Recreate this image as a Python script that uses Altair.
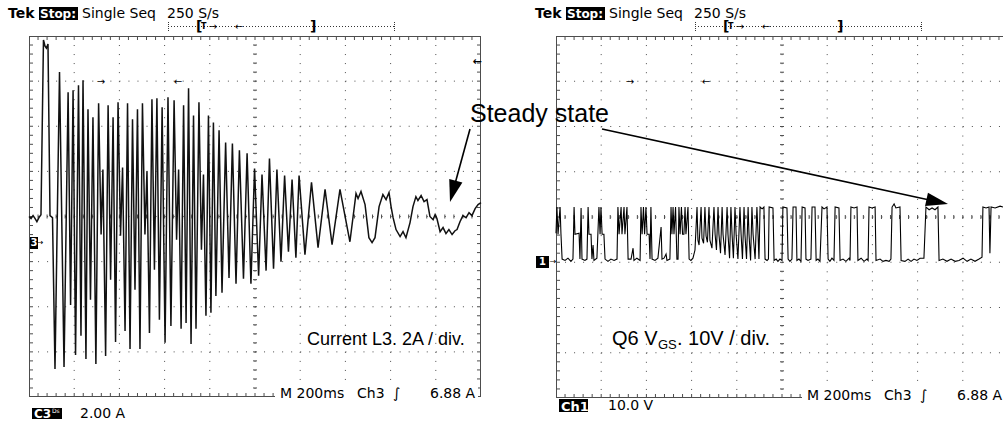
import math
import altair as alt
import pandas as pd

# ---- Ch3: inductor L3 current (time in ms, current in A) -------------------
cur_t_ms = [
    0, 9, 18, 27, 35, 44, 53, 64, 71, 77,
    84, 93, 104, 115, 135, 155, 173, 184, 195, 206,
    219, 230, 239, 252, 261, 272, 283, 296, 308, 319,
    327, 339, 350, 361, 372, 383, 394, 405, 414, 425,
    436, 447, 458, 469, 480, 491, 502, 513, 522, 533,
    544, 555, 566, 577, 589, 602, 615, 628, 642, 653,
    662, 673, 684, 695, 706, 717, 728, 739, 752, 763,
    772, 783, 794, 805, 816, 827, 841, 854, 870, 885,
    900, 916, 931, 949, 965, 982, 998, 1016, 1031, 1049,
    1064, 1082, 1097, 1115, 1131, 1148, 1164, 1181, 1195, 1221,
    1250, 1279, 1310, 1341, 1376, 1420, 1447, 1456, 1469, 1487,
    1504, 1518, 1531, 1549, 1566, 1580, 1593, 1602, 1611, 1624,
    1642, 1655, 1668, 1686, 1699, 1712, 1721, 1735, 1748, 1761,
    1774, 1788, 1797, 1805, 1819, 1832, 1845, 1858, 1872, 1885,
    1894, 1907, 1920, 1934, 1947, 1960, 1974, 1987, 2000,
]
cur_a = [
    1.16, 1.07, 1.2, 1.07, 0.93, 1.11, 1.24, 8.98, 8.71, 8.62,
    8.8, 1.2, 1.11, -5.6, 7.56, -5.51, 6.67, -2.76, 6.76, -4.98,
    6.98, -4.13, 7.2, -5.16, 5.91, -2.53, 5.56, -5.38, 6.18, 0.36,
    3.24, -5.02, 6.09, -1.64, 5.56, -4.4, 6.22, 0.31, 3.33, -3.91,
    6.18, -4.71, 5.47, -2.09, 5.91, -4.71, 6.18, 0.36, 3.16, -4.0,
    6.36, -1.2, 6.4, -3.42, 6.0, -4.44, 6.44, -3.69, 6.31, 0.13,
    3.24, -3.82, 6.09, -3.56, 6.84, -4.49, 5.64, -3.82, 6.22, -0.31,
    3.02, -3.24, 5.64, -3.11, 5.33, -2.36, 4.98, -2.22, 4.44, -1.56,
    4.4, -1.82, 4.09, -1.6, 3.96, -1.82, 3.29, -1.47, 3.02, -1.24,
    3.73, -1.16, 3.24, -0.84, 2.98, -0.4, 2.8, -0.67, 2.98, -0.53,
    2.67, -0.22, 2.36, -0.09, 2.36, 0.04, 2.18, 1.96, 2.27, 1.69,
    0.22, 0.0, 0.22, 1.6, 2.13, 1.91, 2.22, 1.6, 1.11, 0.58,
    0.27, 0.49, 0.22, 0.89, 1.6, 2.04, 1.87, 2.09, 1.82, 1.91,
    1.16, 1.02, 1.24, 1.07, 0.49, 0.67, 0.4, 0.58, 0.36, 0.53,
    0.58, 0.93, 1.2, 1.11, 1.33, 1.2, 1.51, 1.69, 1.78,
]

# ---- Ch1: Q6 gate-source voltage (time in ms, voltage in V) ----------------
vgs_t_ms = [
    0, 4, 9, 18, 22, 27, 40, 53, 66, 75,
    80, 84, 102, 106, 111, 115, 128, 137, 142, 146,
    155, 159, 164, 168, 181, 190, 195, 199, 204, 212,
    217, 230, 243, 257, 270, 274, 279, 288, 292, 301,
    305, 314, 319, 332, 341, 345, 358, 372, 376, 381,
    387, 392, 398, 403, 412, 416, 420, 425, 438, 451,
    465, 469, 478, 487, 491, 504, 509, 513, 518, 522,
    529, 535, 540, 544, 549, 555, 560, 566, 571, 575,
    584, 589, 597, 606, 615, 624, 628, 633, 642, 646,
    653, 659, 664, 670, 677, 681, 690, 699, 704, 710,
    717, 721, 728, 735, 739, 748, 757, 761, 768, 774,
    779, 785, 792, 797, 805, 814, 819, 825, 832, 836,
    843, 850, 854, 861, 867, 872, 881, 889, 894, 898,
    903, 912, 920, 925, 934, 940, 943, 960, 965, 974,
    982, 991, 1000, 1004, 1022, 1027, 1035, 1044, 1049, 1062,
    1066, 1075, 1084, 1089, 1102, 1106, 1115, 1128, 1133, 1146,
    1151, 1159, 1168, 1177, 1186, 1199, 1204, 1212, 1221, 1230,
    1235, 1252, 1257, 1270, 1283, 1297, 1301, 1305, 1319, 1332,
    1336, 1350, 1363, 1376, 1381, 1385, 1398, 1412, 1416, 1434,
    1447, 1460, 1474, 1482, 1487, 1496, 1504, 1522, 1527, 1544,
    1558, 1571, 1584, 1597, 1611, 1628, 1637, 1651, 1664, 1677,
    1690, 1695, 1712, 1730, 1748, 1766, 1783, 1801, 1819, 1836,
    1854, 1872, 1885, 1889, 1903, 1916, 1920, 1925, 1943, 1965, 1978,
]
vgs_v = [
    6.4, 12.2, 6.2, 12.2, 6.2, 0.7, 0.4, 0.9, 0.2, 0.7,
    12.2, 6.2, 6.4, 0.7, 12.0, 0.7, 0.4, 0.7, 12.2, 6.2,
    6.2, 0.7, 3.8, 0.4, 0.9, 12.2, 6.2, 12.2, 6.2, 6.2,
    0.7, 0.2, 0.7, 0.4, 0.7, 12.2, 6.2, 12.2, 6.2, 12.2,
    6.2, 12.2, 0.7, 0.7, 3.1, 0.4, 0.9, 0.4, 12.2, 6.2,
    12.2, 6.2, 12.2, 6.2, 6.2, 0.7, 12.2, 0.7, 0.4, 0.9,
    7.8, 0.7, 0.9, 1.8, 0.4, 0.7, 12.2, 6.2, 12.2, 6.2,
    12.2, 0.7, 0.7, 12.2, 6.2, 12.2, 6.2, 6.2, 12.2, 6.2,
    12.2, 0.7, 0.4, 0.9, 2.7, 12.2, 4.9, 3.8, 12.2, 5.3,
    4.2, 12.2, 5.8, 4.4, 12.2, 4.9, 3.1, 12.2, 6.2, 2.7,
    12.2, 6.2, 2.0, 12.2, 6.2, 1.6, 12.2, 6.2, 0.9, 12.2,
    6.2, 0.9, 12.2, 6.2, 0.7, 12.2, 6.2, 0.7, 12.2, 6.2,
    0.7, 12.2, 6.2, 0.4, 12.2, 6.2, 0.7, 12.2, 6.2, 0.7,
    12.2, 11.8, 12.2, 0.7, 0.4, 0.7, 12.2, 12.0, 0.4, 0.7,
    0.2, 0.7, 0.4, 12.2, 12.0, 0.7, 0.2, 0.7, 12.2, 12.2,
    0.4, 0.7, 0.2, 12.2, 12.0, 0.7, 0.4, 0.7, 12.2, 12.2,
    0.4, 0.7, 0.2, 12.2, 11.8, 12.2, 0.7, 0.2, 0.9, 0.4,
    12.2, 12.0, 0.4, 0.7, 0.2, 0.9, 0.4, 12.2, 12.0, 12.2,
    0.4, 0.9, 0.2, 0.7, 0.4, 12.2, 12.0, 12.2, 0.4, 0.7,
    0.2, 0.4, 0.2, 0.7, 12.2, 12.9, 12.0, 12.2, 0.4, 0.2,
    0.7, 0.2, 0.7, 0.4, 0.9, 0.9, 12.2, 11.6, 12.0, 11.6,
    12.2, 0.4, 0.7, 0.2, 0.7, 0.2, 0.4, 0.9, 0.2, 0.7,
    0.2, 0.7, 1.1, 12.2, 12.0, 12.2, 2.0, 12.2, 12.0, 12.4, 12.2,
]

# ---- scope settings ----------------------------------------------------------
MS_PER_DIV = 200
H_DIVS, V_DIVS, MINOR = 10, 8, 5
CH3_A_PER_DIV, CH3_MID_A = 2.0, 1.16     # value at the centre graticule line
CH1_V_PER_DIV, CH1_MID_V = 10.0, 10.0

FONT_SCOPE = "DejaVu Sans"
FONT_NOTE = "Liberation Sans"
GRID = "#4d4d4d"

FULL_W = 452               # width of a full 10-division screen
LH, RH = 361, 362          # screen heights
RIGHT_X0 = 527             # right screen offset from the left one
PLOT_W = 974               # both screens, right one cut by the page edge
PLOT_H = 362

one = pd.DataFrame({"k": [0]})


def label(text, x, y, size=13, color="black", weight="normal", font=FONT_SCOPE,
          align="left", baseline="alphabetic"):
    return alt.Chart(one).mark_text(
        text=text, fontSize=size, font=font, fontWeight=weight, color=color,
        align=align, baseline=baseline,
    ).encode(x=alt.value(x), y=alt.value(y))


def box(x0, y0, x1, y1, color="black"):
    return alt.Chart(one).mark_rect(color=color).encode(
        x=alt.value(x0), x2=alt.value(x1), y=alt.value(y0), y2=alt.value(y1))


def seg(x0, y0, x1, y1, color=GRID, width=1.0, dash=None):
    kw = {"color": color, "strokeWidth": width}
    if dash:
        kw["strokeDash"] = dash
    return alt.Chart(one).mark_rule(**kw).encode(
        x=alt.value(x0), x2=alt.value(x1), y=alt.value(y0), y2=alt.value(y1))


def arrow(x0, y0, x1, y1, head=22, half=0.62):
    ang = math.atan2(y1 - y0, x1 - x0)
    ux, uy = math.cos(ang), math.sin(ang)
    cx, cy = x1 - ux * head / 2, y1 - uy * head / 2
    bx, by = x1 - ux * (head - 3), y1 - uy * (head - 3)
    rot = (math.degrees(ang) + 90) % 360
    shaft = seg(x0, y0, bx, by, color="black", width=1.6)
    tip = alt.Chart(one).mark_point(
        shape=f"M0,-1L{-half},1L{half},1Z", size=head * head, filled=True,
        color="black", opacity=1, angle=rot, strokeWidth=0,
    ).encode(x=alt.value(cx), y=alt.value(cy))
    return [shaft, tip]


def screen(x0, w, h, t_max, mid, per_div, right_edge):
    """Graticule of one scope screen; returns layers and the channel encoders."""
    y_lo = mid - per_div * V_DIVS / 2
    y_hi = mid + per_div * V_DIVS / 2
    xs = alt.Scale(domain=[0, t_max], range=[x0, x0 + w], nice=False, zero=False)
    ys = alt.Scale(domain=[y_lo, y_hi], range=[h, 0], nice=False, zero=False)

    def X():
        return alt.X("t:Q", scale=xs, axis=None)

    def Y():
        return alt.Y("v:Q", scale=ys, axis=None)

    step_x = FULL_W / (H_DIVS * MINOR)
    step_y = h / (V_DIVS * MINOR)
    layers = []

    # dotted division lines
    vt = pd.DataFrame({"t": [MS_PER_DIV * k for k in range(1, H_DIVS)
                             if MS_PER_DIV * k < t_max]})
    layers.append(alt.Chart(vt).mark_rule(color=GRID, strokeWidth=1,
                                          strokeDash=[1, step_y - 1]).encode(
        x=X(), y=alt.value(0), y2=alt.value(h)))
    hv = pd.DataFrame({"v": [mid + per_div * k for k in range(-3, 4)]})
    layers.append(alt.Chart(hv).mark_rule(color=GRID, strokeWidth=1,
                                          strokeDash=[1, step_x - 1]).encode(
        y=Y(), x=alt.value(x0), x2=alt.value(x0 + w)))

    # minor ticks on the frame and on the centre cross
    minor_t = [MS_PER_DIV / MINOR * k for k in range(1, H_DIVS * MINOR)
               if MS_PER_DIV / MINOR * k < t_max]
    minor_v = [y_lo + per_div / MINOR * k for k in range(1, V_DIVS * MINOR)]
    mt = pd.DataFrame({"t": minor_t})
    mv = pd.DataFrame({"v": minor_v})
    tick = alt.Chart(mt).mark_rule(color=GRID, strokeWidth=1)
    layers.append(tick.encode(x=X(), y=alt.value(0), y2=alt.value(4)))
    layers.append(tick.encode(x=X(), y=alt.value(h - 4), y2=alt.value(h)))
    layers.append(tick.encode(x=X(), y=alt.value(h / 2 - 2), y2=alt.value(h / 2 + 2)))
    vtick = alt.Chart(mv).mark_rule(color=GRID, strokeWidth=1)
    layers.append(vtick.encode(y=Y(), x=alt.value(x0), x2=alt.value(x0 + 4)))
    cx = x0 + FULL_W / 2
    layers.append(vtick.encode(y=Y(), x=alt.value(cx - 2), x2=alt.value(cx + 2)))
    if right_edge:
        layers.append(vtick.encode(y=Y(), x=alt.value(x0 + w - 4), x2=alt.value(x0 + w)))

    # frame
    layers.append(seg(x0, 0.5, x0 + w, 0.5))
    layers.append(seg(x0, h - 0.5, x0 + w, h - 0.5))
    layers.append(seg(x0 + 0.5, 0, x0 + 0.5, h))
    if right_edge:
        layers.append(seg(x0 + w - 0.5, 0, x0 + w - 0.5, h))
    return layers, X, Y


def header(layers, x0):
    layers.append(label("Tek", x0 - 21, -18, size=14, weight="bold"))
    layers.append(box(x0 + 10, -29, x0 + 49, -16))
    layers.append(label("Stop:", x0 + 11, -18.5, size=12, weight="bold", color="white"))
    layers.append(label("Single Seq", x0 + 53, -18, size=14))
    layers.append(label("250 S/s", x0 + 138, -18, size=14))
    # record / trigger position bar
    layers.append(seg(x0 + 139, -9.5, x0 + 366, -9.5, color="#333333", dash=[1, 2]))
    layers.append(seg(x0 + 139.5, -14, x0 + 139.5, -4, color="#333333", dash=[1, 1]))
    layers.append(seg(x0 + 365.5, -14, x0 + 365.5, -4, color="#333333", dash=[1, 1]))
    layers.append(label("[", x0 + 167, -5, size=14, weight="bold"))
    layers.append(label("]", x0 + 281, -5, size=14, weight="bold"))
    layers.append(label("T", x0 + 172, -7, size=8, weight="bold"))
    layers.append(label("\u2192", x0 + 184, -9, size=10, align="center", baseline="middle"))
    layers.append(label("\u2190", x0 + 210, -9, size=10, align="center", baseline="middle"))


def footer(layers, x0, y):
    layers.append(box(x0 + 246, y - 12, x0 + 449, y + 2, color="white"))
    layers.append(label("M 200ms", x0 + 251, y, size=14))
    layers.append(label("Ch3", x0 + 328, y, size=14))
    layers.append(label("\u222b", x0 + 364, y, size=14))
    layers.append(label("6.88 A", x0 + 401, y, size=14))


layers = []

# ---- left screen: Ch3 current ------------------------------------------------
L, LX, LY = screen(0, FULL_W, LH, MS_PER_DIV * H_DIVS, CH3_MID_A, CH3_A_PER_DIV, True)
layers += L
cur = pd.DataFrame({"t": cur_t_ms, "v": cur_a})
layers.append(alt.Chart(cur).mark_line(color="#111111", strokeWidth=1.5).encode(x=LX(), y=LY()))
header(layers, 0)
footer(layers, 0, 362)
layers.append(box(3, 372, 33, 383))
layers.append(label("C3", 5, 381.5, size=12, weight="bold", color="white"))
layers.append(label("Ds", 23, 377, size=6, color="white"))
layers.append(label("2.00 A", 51, 382, size=14))
layers.append(box(1, 201, 9, 213))
layers.append(label("3", 5, 207, size=10, weight="bold", color="white", align="center", baseline="middle"))
layers.append(label("\u2192", 11, 207, size=8, align="center", baseline="middle"))
layers.append(label("\u2192", 72, 46, size=10, align="center", baseline="middle"))
layers.append(label("\u2190", 149, 46, size=10, align="center", baseline="middle"))
layers.append(label("\u2190", 448, 26, size=11, weight="bold", align="center", baseline="middle"))

# ---- right screen: Ch1 gate voltage -----------------------------------------
X0 = RIGHT_X0
RW = PLOT_W - X0
R, RX, RY = screen(X0, RW, RH, MS_PER_DIV * H_DIVS * RW / FULL_W, CH1_MID_V,
                   CH1_V_PER_DIV, False)
layers += R
vgs = pd.DataFrame({"t": vgs_t_ms, "v": vgs_v})
layers.append(alt.Chart(vgs).mark_line(color="black", strokeWidth=1.1).encode(x=RX(), y=RY()))
header(layers, X0)
footer(layers, X0, 364)
layers.append(box(X0 + 3, 363, X0 + 32, 376))
layers.append(label("Ch1", X0 + 5, 374.5, size=13, weight="bold", color="white"))
layers.append(label("10.0 V", X0 + 52, 374, size=14))
layers.append(box(X0 - 20, 220, X0 - 7, 232))
layers.append(label("1", X0 - 13.5, 226, size=10, weight="bold", color="white", align="center", baseline="middle"))
layers.append(label("\u2192", X0 - 3, 226, size=8, align="center", baseline="middle"))
layers.append(label("\u2192", X0 + 74, 46, size=10, align="center", baseline="middle"))
layers.append(label("\u2190", X0 + 150, 46, size=10, align="center", baseline="middle"))

# ---- annotations -------------------------------------------------------------
layers.append(label("Current L3. 2A / div.", 278, 309, size=18, font=FONT_NOTE))
layers.append(label("Q6 V", X0 + 56, 309, size=20, font=FONT_NOTE))
layers.append(label("GS", X0 + 102, 313, size=13, font=FONT_NOTE))
layers.append(label(". 10V / div.", X0 + 121, 309, size=20, font=FONT_NOTE))
layers.append(label("Steady state", 441, 86, size=25, font=FONT_NOTE))
layers += arrow(441, 93, 421, 166)
layers += arrow(573, 93, 919, 168)

chart = alt.layer(*layers).resolve_scale(x="independent", y="independent").properties(
    width=PLOT_W, height=PLOT_H,
    padding={"left": 29, "top": 36, "right": 0, "bottom": 30},
    autosize=alt.AutoSizeParams(type="none"),
    background="white",
).configure_view(stroke=None)

chart.save("out.html", embed_options={"renderer": "svg", "actions": False})
